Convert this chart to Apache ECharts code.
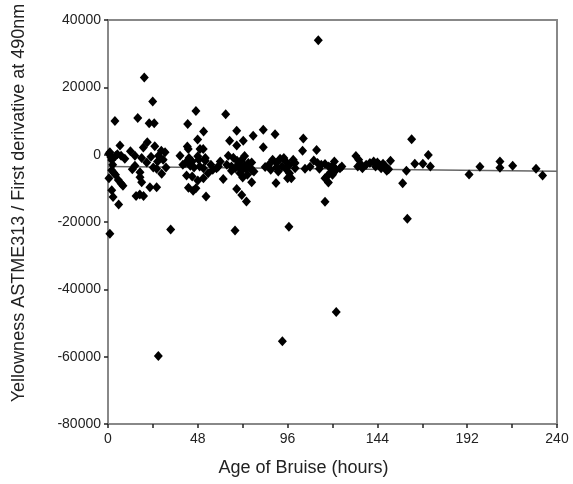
<!DOCTYPE html>
<html>
<head>
<meta charset="utf-8">
<script src="https://cdn.jsdelivr.net/npm/echarts@6/dist/echarts.min.js"></script>
<style>
html,body{margin:0;padding:0;background:#fff;}
#chart{width:573px;height:484px;}
</style>
</head>
<body>
<div id="chart"></div>
<script>
// Age of bruise (hours) and yellowness value pairs
var bruisePoints = [
  [0.5,300],[1,700],[1.5,-700],[2,-1600],[2.5,-3000],[2,-4600],[4,-400],[5,100],[6.4,2700],[3.7,10000],
  [1,-23500],[2,-10600],[2.7,-12600],[5.7,-14800],[4,-6000],[5.5,-7500],[7,-8600],[3,-5400],[8,-9200],[7,-300],[9,-1200],[0.5,-7000],
  [19.4,22900],[23.9,15800],[15.9,10900],[22,9300],[24.7,9300],[21,3700],[18.9,2100],[14.4,-300],[18,-1000],[20.7,-2300],
  [24.2,-3800],[26,-4200],[14.4,-3300],[17.1,-5200],[17.1,-6700],[18,-8200],[22.4,-9700],[26,-9700],[15,-12300],[17,-11800],
  [19,-12300],[28.7,-5700],[27,-300],[28.5,1200],[30.5,700],[29.5,-1500],[26.5,-2000],[12,1000],[25,2500],[13,-4300],
  [33.5,-22200],[26.9,-59800],[31,-3800],[23,-600],
  [38.5,-300],[42.4,2400],[42.6,9100],[47,13000],[51.1,6900],[47.9,4500],[42.9,1700],[49.2,1700],[50.9,1700],[48,-500],
  [52,-1000],[43.3,-1000],[41.5,-2400],[45,-2000],[48.5,-1500],[52,-1800],[44,-3300],[46,-3800],[49,-3500],[51,-4000],
  [55,-3000],[58,-4000],[42,-6200],[45,-6500],[48,-7700],[51,-7000],[43,-9800],[45.5,-10700],[47,-10000],[52.4,-12400],
  [56,-4500],[40,-3000],[53.5,-5500],
  [62.9,12000],[68.8,7100],[65,4100],[72.3,4100],[77.6,5600],[68.8,2700],[64.3,-300],[67,-900],[71.5,-1500],[75,-2500],
  [69.7,-2800],[73,-3200],[63.5,-3000],[66,-3500],[68,-4000],[70,-3800],[72,-4500],[74,-4200],[76,-3800],[78,-5000],
  [70.5,-5500],[74.5,-6000],[72,-6800],[61.6,-7200],[66,-4800],[68.8,-10200],[71.5,-12000],[74,-13900],[67.9,-22500],
  [76.8,-8200],[59,-3500],[60,-2000],[76.8,-2300],[77,-4700],[69,-1800],[73,-400],
  [83,7400],[89.3,6100],[83,2200],[104.4,4800],[104,1200],[96.7,-21400],[93.2,-55400],[89.8,-8400],[96,-7000],[98,-7000],
  [92,-1200],[88,-1500],[90,-2500],[94,-1000],[95,-2000],[97,-3000],[100,-2500],[86,-3000],[90,-3800],[93,-3500],
  [95,-4200],[100,-4000],[105.3,-4200],[84,-3700],[87,-4500],[91,-5000],[97,-5500],[99,-1500],
  [112.4,34000],[111.5,1400],[116,-14000],[117.8,-8300],[116,-7000],[122,-46700],[110,-1700],[112,-2500],[114,-3000],
  [116,-2800],[118,-3500],[120,-3200],[122,-4500],[124,-4000],[113,-4200],[119,-5200],[120,-6000],[117,-6500],[125,-3500],
  [121,-2000],[108,-3600],
  [132.5,-400],[134,-1500],[135,-2800],[136,-4000],[133.5,-3500],[140,-2500],[142,-2000],[143,-3500],[145,-3000],
  [146,-4000],[148,-3300],[150,-4300],[151,-1800],[138,-3000],[144,-2300],[149,-4800],[147,-2700],
  [157.5,-8500],[159.5,-4800],[160,-19000],[162.3,4600],[164,-2700],[168.3,-2700],[171.2,-100],[172.3,-3500],
  [193,-5900],[198.8,-3600],[209.5,-2000],[209.5,-3900],[216.3,-3300],[228.8,-4200],[232.3,-6200]
];

// Linear trend line endpoints
var trendHours = [0, 240];
var trendValues = [-3550, -4900];

var xTickLabels = ['0','48','96','144','192','240'];

var chart = echarts.init(document.getElementById('chart'));
var font = 'Arial, "Liberation Sans", sans-serif';
chart.setOption({
  animation: false,
  backgroundColor: '#fff',
  grid: {left: 108, top: 20, right: 16, bottom: 60, show: true, borderColor: '#888', borderWidth: 2},
  xAxis: {
    type: 'value', min: 0, max: 240, interval: 24,
    name: 'Age of Bruise (hours)', nameLocation: 'middle', nameGap: 35,
    nameTextStyle: {fontFamily: font, fontSize: 18, color: '#222', padding: [0, 58, 0, 0]},
    axisLine: {show: true, onZero: false, lineStyle: {color: '#888', width: 2}},
    axisTick: {show: true, length: 4, lineStyle: {color: '#222', width: 1.5}},
    axisLabel: {
      fontFamily: font, fontSize: 14, color: '#222', margin: 8,
      formatter: function (v) { var s = String(v); return xTickLabels.indexOf(s) >= 0 ? s : ''; }
    },
    splitLine: {show: false}
  },
  yAxis: {
    type: 'value', min: -80000, max: 40000, interval: 20000,
    name: 'Yellowness ASTME313 / First derivative at 490nm', nameLocation: 'middle', nameGap: 80,
    nameTextStyle: {fontFamily: font, fontSize: 18, color: '#222', padding: [0, 0, 0, 38]},
    axisLine: {show: true, onZero: false, lineStyle: {color: '#888', width: 2}},
    axisTick: {show: true, length: 4, lineStyle: {color: '#222', width: 1.5}},
    axisLabel: {fontFamily: font, fontSize: 14, color: '#222', margin: 7,
      formatter: function (v) { return String(v); }},
    splitLine: {show: false}
  },
  series: [
    {
      type: 'line',
      data: trendHours.map(function (h, i) { return [h, trendValues[i]]; }),
      symbol: 'none',
      lineStyle: {color: '#666', width: 1.5},
      z: 1
    },
    {
      type: 'scatter',
      data: bruisePoints,
      symbol: 'diamond',
      symbolSize: [9, 10],
      itemStyle: {color: '#000', opacity: 1},
      z: 2
    }
  ]
});
</script>
</body>
</html>
